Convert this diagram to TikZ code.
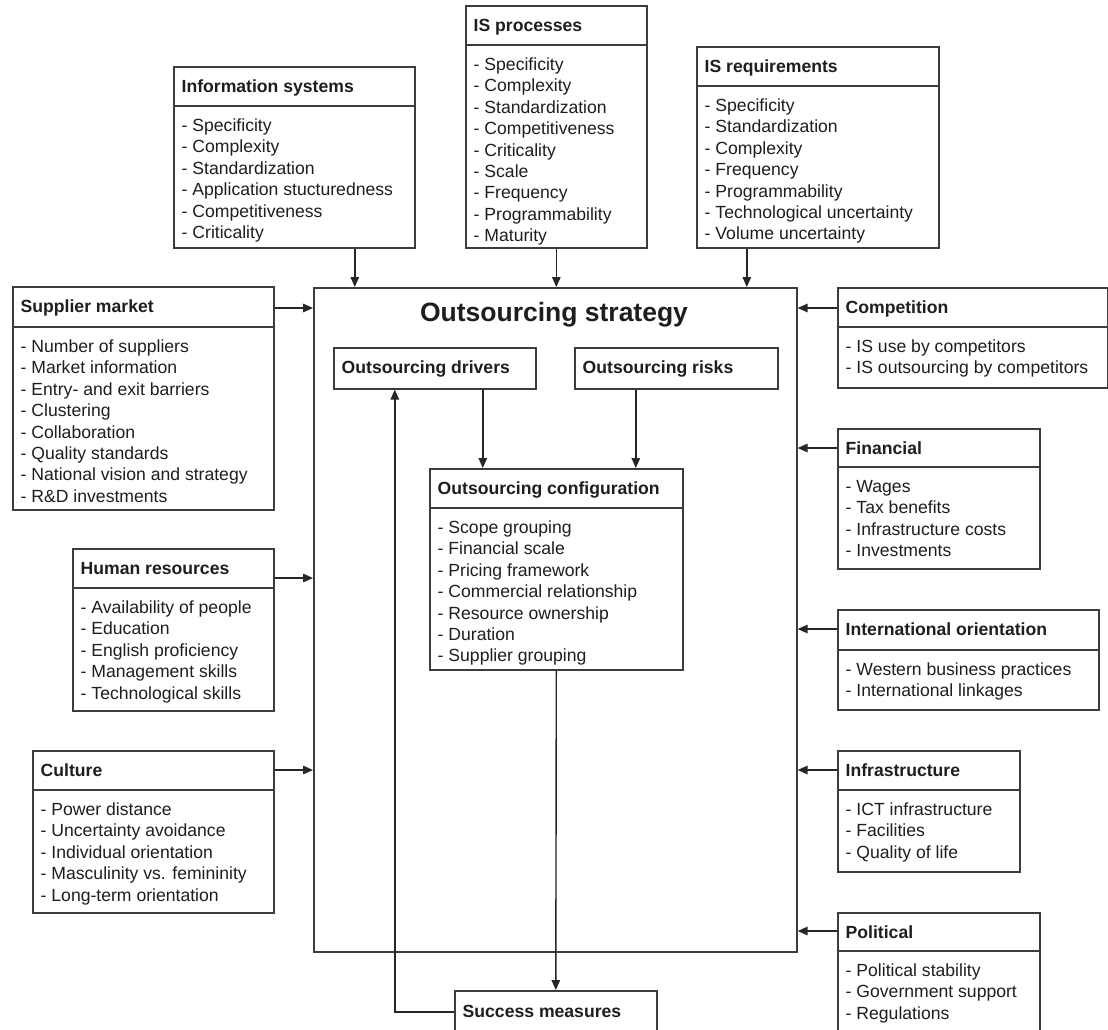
\documentclass[tikz,border=0pt]{standalone}
\usepackage{fontspec}
\setmainfont{Liberation Sans}
\usetikzlibrary{arrows.meta,calc}
\definecolor{ln}{HTML}{3C3C3C}
\definecolor{tx}{HTML}{1E1E1E}
\tikzset{
 fbox/.style={draw=ln, line width=1.6pt, rectangle, inner sep=0pt, fill=white},
 fhead/.style={inner sep=0pt, font=\bfseries\fontsize{17.6}{21}\selectfont, text=tx},
 fitem/.style={inner sep=0pt, font=\fontsize{17.6}{21}\selectfont, text=tx},
 ftitle/.style={inner sep=0pt, font=\bfseries\fontsize{26.5}{30}\selectfont, text=tx},
 divider/.style={draw=ln, line width=1.6pt},
 arr/.style={draw=black!85, line width=1.4pt, -{Triangle[length=10pt,width=8.5pt]}},
}
% name, x, y, width, height, divider offset, title, items
\newcommand\factorbox[8]{%
  \node[fbox, minimum width=#4pt, minimum height=#5pt, anchor=north west] (#1) at (#2,#3) {};
  \node[fhead, anchor=base west] (#1-title) at (#2+8.5,#3+26) {#7};
  \draw[divider] (#1.north west) ++(0,#6) -- ++(#4,0);
  \foreach \t [count=\k] in {#8}
    \node[fitem, anchor=base west] (#1-\k) at (#2+8.5,{#3+#6+25.5+(\k-1)*21.4}) {\t};
}
\begin{document}
\begin{tikzpicture}[x=1pt,y=-1pt]
\useasboundingbox (0,0) rectangle (1108,1029);

% central box
\node[fbox, minimum width=483pt, minimum height=664pt, anchor=north west] (main) at (313,287) {};
\node[ftitle, anchor=base] (title) at (554,321) {Outsourcing strategy};

% inner boxes
\node[fbox, minimum width=202pt, minimum height=41pt, anchor=north west] (drv) at (333,347) {};
\node[fhead, anchor=base west] (drv-title) at (341.5,373) {Outsourcing drivers};
\node[fbox, minimum width=203pt, minimum height=41pt, anchor=north west] (rsk) at (574,347) {};
\node[fhead, anchor=base west] (rsk-title) at (582.5,373) {Outsourcing risks};

\factorbox{cfg}{429}{468}{253}{201}{40}{Outsourcing configuration}{- Scope grouping,- Financial scale,- Pricing framework,- Commercial relationship,- Resource ownership,- Duration,- Supplier grouping}

\node[fbox, minimum width=202pt, minimum height=45pt, anchor=north west] (sm) at (454,990) {};
\node[fhead, anchor=base west] (sm-title) at (462.5,1017) {Success measures};

% top boxes
\factorbox{is}{173}{66}{241}{181}{40}{Information systems}{- Specificity,- Complexity,- Standardization,- Application stucturedness,- Competitiveness,- Criticality}
\factorbox{isp}{465}{5}{181}{242}{40}{IS processes}{- Specificity,- Complexity,- Standardization,- Competitiveness,- Criticality,- Scale,- Frequency,- Programmability,- Maturity}
\factorbox{isr}{696}{46}{242}{201}{40}{IS requirements}{- Specificity,- Standardization,- Complexity,- Frequency,- Programmability,- Technological uncertainty,- Volume uncertainty}

% left boxes
\factorbox{sup}{12}{286}{261}{223}{41}{Supplier market}{- Number of suppliers,- Market information,- Entry- and exit barriers,- Clustering,- Collaboration,- Quality standards,- National vision and strategy,- R\&D investments}
\factorbox{hr}{72}{548}{201}{162}{40}{Human resources}{- Availability of people,- Education,- English proficiency,- Management skills,- Technological skills}
\factorbox{cul}{32}{750}{241}{162}{40}{Culture}{- Power distance,- Uncertainty avoidance,- Individual orientation,- Masculinity vs. femininity,- Long-term orientation}

% right boxes
\factorbox{comp}{837}{287}{270}{100}{40}{Competition}{- IS use by competitors,- IS outsourcing by competitors}
\factorbox{fin}{837}{428}{202}{140}{39}{Financial}{- Wages,- Tax benefits,- Infrastructure costs,- Investments}
\factorbox{intl}{837}{609}{261}{100}{41}{International orientation}{- Western business practices,- International linkages}
\factorbox{infra}{837}{750}{182}{121}{40}{Infrastructure}{- ICT infrastructure,- Facilities,- Quality of life}
\factorbox{pol}{837}{912}{202}{125}{39}{Political}{- Political stability,- Government support,- Regulations}

% arrows from top
\draw[arr] ([xshift=60.5pt]is.south) -- ([xshift=60.5pt]is.south |- main.north);
\draw[arr] (isp.south) -- (isp.south |- main.north);
\draw[arr] ([xshift=-71pt]isr.south) -- ([xshift=-71pt]isr.south |- main.north);

% arrows from left
\draw[arr] ([yshift=-22pt]sup.north east) -- ([yshift=-22pt]sup.north east -| main.west);
\draw[arr] ([yshift=-30pt]hr.north east) -- ([yshift=-30pt]hr.north east -| main.west);
\draw[arr] ([yshift=-20pt]cul.north east) -- ([yshift=-20pt]cul.north east -| main.west);

% arrows from right
\draw[arr] ([yshift=-21pt]comp.north west) -- ([yshift=-21pt]comp.north west -| main.east);
\draw[arr] ([yshift=-20pt]fin.north west) -- ([yshift=-20pt]fin.north west -| main.east);
\draw[arr] ([yshift=-20pt]intl.north west) -- ([yshift=-20pt]intl.north west -| main.east);
\draw[arr] ([yshift=-20pt]infra.north west) -- ([yshift=-20pt]infra.north west -| main.east);
\draw[arr] ([yshift=-19pt]pol.north west) -- ([yshift=-19pt]pol.north west -| main.east);

% inner arrows
\draw[arr] ([xshift=48pt]drv.south) -- ([xshift=48pt]drv.south |- cfg.north);
\draw[arr] ([xshift=-40.5pt]rsk.south) -- ([xshift=-40.5pt]rsk.south |- cfg.north);
\draw[arr] (cfg.south) -- (sm.north);
\draw[arr] ([yshift=1.5pt]sm.west) -| ([xshift=-40pt]drv.south);
\end{tikzpicture}
\end{document}
